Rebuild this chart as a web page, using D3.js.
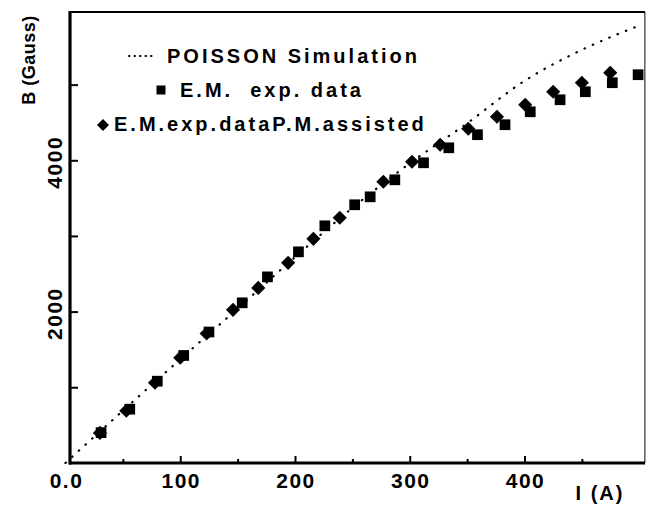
<!DOCTYPE html>
<html>
<head>
<meta charset="utf-8">
<script src="https://cdn.jsdelivr.net/npm/d3@7"></script>
<style>
  body { margin: 0; background: #fff; }
  svg text { font-family: "Liberation Sans", Arial, sans-serif; font-weight: bold; fill: #000; }
</style>
</head>
<body>
<svg width="647" height="510"></svg>
<script>
// POISSON simulation curve (I in A, B in Gauss)
const simI = [0, 50, 100, 150, 200, 250, 300, 350, 400, 450, 500];
const simB = [0, 690, 1370, 2040, 2720, 3370, 3960, 4490, 5050, 5460, 5780];

// E.M. exp. data (squares)
const emI = [31, 56, 80, 103, 125, 154, 176, 203, 226, 252, 265.5, 287, 312, 334, 359, 383, 405, 431, 453, 476.5, 499];
const emB = [400, 710, 1080, 1420, 1730, 2116, 2459, 2790, 3134, 3412, 3517, 3742, 3967, 4165, 4338, 4470, 4641, 4800, 4906, 5025, 5131];

// E.M. exp. data, P.M. assisted (diamonds)
const pmI = [30, 53, 78, 100, 123, 146, 168, 194, 216, 239, 277, 302, 326.5, 351, 376, 400.6, 425, 450, 474.7];
const pmB = [396, 690, 1060, 1390, 1710, 2023, 2313, 2644, 2962, 3240, 3716, 3980, 4205, 4417, 4575, 4734, 4906, 5025, 5157];

const xTicks = [50, 100, 150, 200, 250, 300, 350, 400, 450];
const xLabels = [0, 100, 200, 300, 400];
const yTicks = [1000, 2000, 3000, 4000, 5000];
const yLabels = [2000, 4000];

const plotLeft = 70, plotRight = 645, plotTop = 12, plotBottom = 463;

const svg = d3.select('svg');

const x = d3.scaleLinear().domain([0, 505]).range([65.5, 645]);
const y = d3.scaleLinear().domain([0, 5960]).range([462.9, 12]);

// frame
svg.append('line').attr('x1', plotLeft).attr('x2', plotRight).attr('y1', plotTop).attr('y2', plotTop)
    .attr('stroke', '#000').attr('stroke-width', 1.8);
svg.append('line').attr('x1', plotRight).attr('x2', plotRight).attr('y1', plotTop).attr('y2', plotBottom)
    .attr('stroke', '#000').attr('stroke-width', 1.2);

// x axis
const xAxis_g = svg.append('g').attr('transform', 'translate(0,' + plotBottom + ')');
xAxis_g.call(d3.axisBottom(x).tickValues(xTicks).tickSize(-5).tickFormat(''))
    .select('.domain').remove();
xAxis_g.selectAll('.tick line').attr('stroke-width', 2)
    .attr('y2', d => d % 100 === 0 ? -7 : -4);

svg.selectAll('.xlab').data(xLabels).enter()
    .append('text').attr('class', 'xlab')
    .attr('x', d => x(d) + 1)
    .attr('y', 488)
    .attr('text-anchor', 'middle')
    .style('font-size', '21px')
    .style('letter-spacing', '1.5px')
    .text(d => d === 0 ? '0.0' : d);

svg.append('line').attr('x1', plotLeft - 1).attr('x2', plotRight).attr('y1', plotBottom).attr('y2', plotBottom)
    .attr('stroke', '#000').attr('stroke-width', 3.2);

// y axis
const yAxis_g = svg.append('g').attr('transform', 'translate(' + plotLeft + ',0)');
yAxis_g.call(d3.axisRight(y).tickValues(yTicks).tickSize(8).tickFormat(''))
    .select('.domain').remove();
yAxis_g.selectAll('.tick line').attr('stroke-width', 2);

svg.append('line').attr('x1', plotLeft).attr('x2', plotLeft).attr('y1', plotTop - 1).attr('y2', plotBottom + 1.5)
    .attr('stroke', '#000').attr('stroke-width', 3.2);

svg.selectAll('.ylab').data(yLabels).enter()
    .append('text').attr('class', 'ylab')
    .attr('transform', d => 'translate(62,' + (y(d) + 2) + ') rotate(-90)')
    .attr('text-anchor', 'middle')
    .style('font-size', '21px')
    .style('letter-spacing', '1.5px')
    .text(d => d);

// axis titles
svg.append('text')
    .attr('transform', 'translate(35,60) rotate(-90)')
    .attr('text-anchor', 'middle')
    .style('font-size', '18px')
    .style('letter-spacing', '0.5px')
    .text('B (Gauss)');

svg.append('text')
    .attr('x', 600).attr('y', 500)
    .attr('text-anchor', 'middle')
    .style('font-size', '20px')
    .style('letter-spacing', '2px')
    .text('I (A)');

// simulation curve
const simData = simI.map((d, i) => [d, simB[i]]);
const line = d3.line().x(d => x(d[0])).y(d => y(d[1])).curve(d3.curveMonotoneX);

svg.append('path')
    .datum(simData)
    .attr('d', line)
    .attr('fill', 'none')
    .attr('stroke', '#000')
    .attr('stroke-width', 2.2)
    .attr('stroke-linecap', 'round')
    .attr('stroke-dasharray', '0.5,8.5');

// data markers
const square = d3.symbol(d3.symbolSquare).size(115);
const diamond = d3.symbol(d3.symbolSquare).size(100);

const emData = emI.map((d, i) => [d, emB[i]]);
const pmData = pmI.map((d, i) => [d, pmB[i]]);

svg.append('g').selectAll('path').data(emData).enter()
    .append('path')
    .attr('d', square)
    .attr('transform', d => 'translate(' + x(d[0]) + ',' + y(d[1]) + ')')
    .attr('fill', '#000');

svg.append('g').selectAll('path').data(pmData).enter()
    .append('path')
    .attr('d', diamond)
    .attr('transform', d => 'translate(' + x(d[0]) + ',' + y(d[1]) + ') rotate(45)')
    .attr('fill', '#000');

// cover anything past the right frame
svg.append('rect').attr('x', plotRight + 0.6).attr('y', 0).attr('width', 10).attr('height', 510).attr('fill', '#fff');

// legend
const legend_g = svg.append('g');

legend_g.append('line')
    .attr('x1', 129).attr('x2', 155).attr('y1', 56).attr('y2', 56)
    .attr('stroke', '#000').attr('stroke-width', 2)
    .attr('stroke-linecap', 'round')
    .attr('stroke-dasharray', '0.5,5');

legend_g.append('text')
    .attr('x', 167).attr('y', 63)
    .style('font-size', '20px')
    .style('letter-spacing', '3px')
    .text('POISSON Simulation');

legend_g.append('path')
    .attr('d', d3.symbol(d3.symbolSquare).size(81))
    .attr('transform', 'translate(161,90)');

legend_g.append('text')
    .attr('x', 180).attr('y', 97)
    .style('font-size', '20px')
    .style('letter-spacing', '3px')
    .style('white-space', 'pre')
    .text('E.M.  exp. data');

legend_g.append('path')
    .attr('d', d3.symbol(d3.symbolSquare).size(72))
    .attr('transform', 'translate(103,125) rotate(45)');

legend_g.append('text')
    .attr('x', 114).attr('y', 131)
    .style('font-size', '20px')
    .style('letter-spacing', '3px')
    .text('E.M.exp.dataP.M.assisted');
</script>
</body>
</html>
